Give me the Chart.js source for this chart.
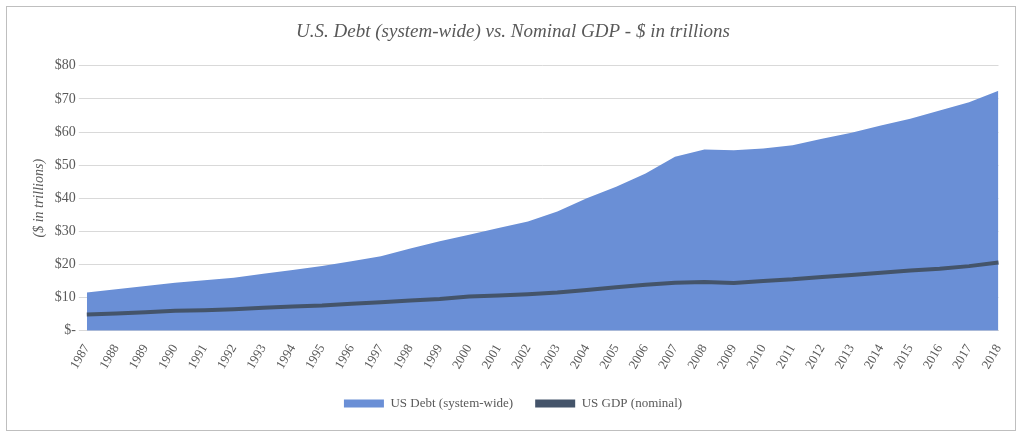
<!DOCTYPE html>
<html>
<head>
<script src="https://cdn.jsdelivr.net/npm/chart.js@4"></script>
<style>
  body { margin:0; background:#fff; }
  #wrap { position:absolute; left:6px; top:6px; width:1010px; height:425px; border:1px solid #bfbfbf; box-sizing:border-box; }
</style>
</head>
<body>
<div id="wrap"><canvas id="debtChart"></canvas></div>
<script>
var years = [];
for (var y = 1987; y <= 2018; y++) years.push(String(y));

var debt = [11.5,12.5,13.5,14.5,15.2,16,17.2,18.3,19.5,21,22.5,24.8,27,29,31,33,36,40,43.5,47.5,52.5,54.7,54.5,55,56,58,59.8,62,64,66.5,69,72.5];
var gdp = [4.9,5.2,5.6,6.0,6.2,6.5,6.9,7.3,7.6,8.1,8.6,9.1,9.6,10.3,10.6,11.0,11.5,12.3,13.1,13.9,14.5,14.7,14.4,15.0,15.5,16.2,16.8,17.5,18.2,18.7,19.5,20.6];

Chart.defaults.font.family = "'Liberation Serif', serif";
Chart.defaults.color = '#595959';

new Chart(debtChart, {
  type: 'line',
  data: {
    labels: years,
    datasets: [
      {
        label: 'US GDP (nominal)',
        data: gdp,
        borderColor: '#44546a',
        borderWidth: 4,
        pointRadius: 0,
        fill: false,
        order: 0
      },
      {
        label: 'US Debt (system-wide)',
        data: debt,
        borderColor: '#6a8fd6',
        backgroundColor: '#6a8fd6',
        borderWidth: 0,
        pointRadius: 0,
        fill: 'origin',
        order: 1
      }
    ]
  },
  options: {
    responsive: true,
    maintainAspectRatio: false,
    animation: false,
    layout: { padding: { left: 20, right: 16, top: 8, bottom: 10 } },
    plugins: {
      title: {
        display: true,
        text: 'U.S. Debt (system-wide) vs. Nominal GDP - $ in trillions',
        font: { size: 19, style: 'italic', weight: 'normal' },
        color: '#595959',
        padding: { top: 6, bottom: 22 }
      },
      legend: {
        position: 'bottom',
        reverse: true,
        labels: {
          boxWidth: 40, boxHeight: 8, padding: 22,
          font: { size: 13 },
          generateLabels: function (chart) {
            var items = Chart.defaults.plugins.legend.labels.generateLabels(chart);
            items.forEach(function (it) { it.fillStyle = it.strokeStyle; it.lineWidth = 0; });
            return items;
          }
        }
      }
    },
    scales: {
      x: {
        offset: false,
        grid: { display: false },
        border: { color: '#d9d9d9' },
        ticks: { maxRotation: 60, minRotation: 60, autoSkip: false, font: { size: 13 } }
      },
      y: {
        min: 0, max: 80,
        ticks: {
          stepSize: 10,
          font: { size: 14 },
          callback: function (v) { return v === 0 ? '$-' : '$' + v; }
        },
        grid: { color: '#d9d9d9' },
        border: { display: false },
        title: { display: true, text: '($ in trillions)', font: { size: 14, style: 'italic' } }
      }
    }
  }
});
</script>
</body>
</html>
